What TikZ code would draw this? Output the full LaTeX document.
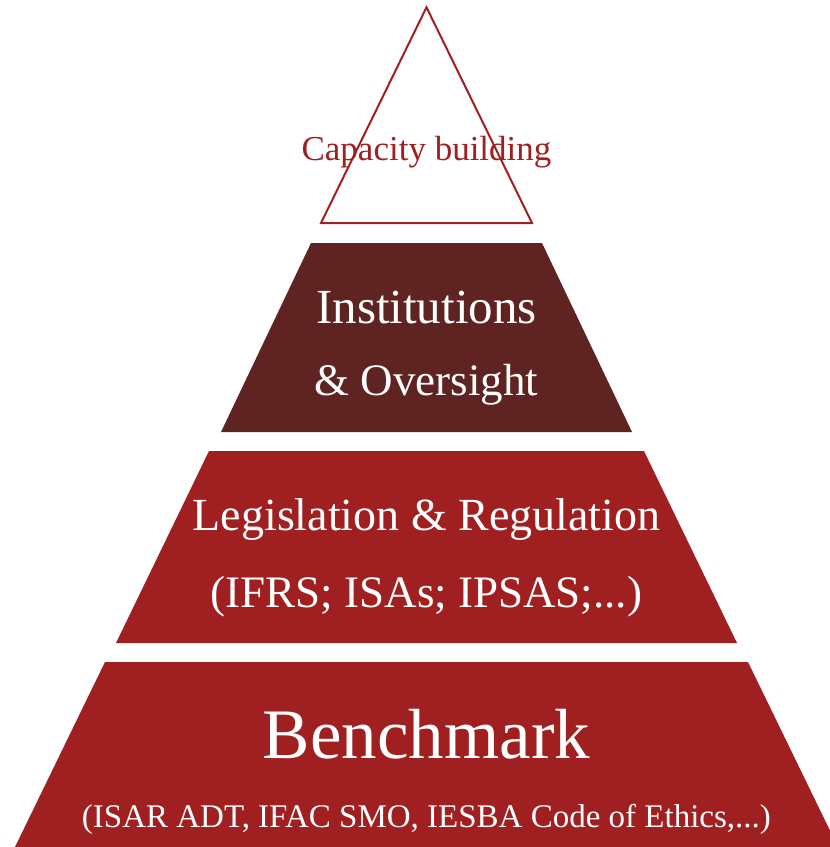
\documentclass[tikz,border=0pt]{standalone}
\usepackage{fontspec}
\setmainfont{Liberation Serif}
\usetikzlibrary{positioning}
\definecolor{pyrred}{HTML}{A02021}
\definecolor{pyrbrown}{HTML}{5F2321}
\newcommand{\fs}[1]{\fontsize{#1}{1.2\dimexpr#1pt\relax}\selectfont}

\begin{document}
\begin{tikzpicture}[x=1pt,y=-1pt]
		\tikzstyle{every node}+=[inner sep=0pt,anchor=base]
		\tikzstyle{lbl}=[text=white]
		\useasboundingbox (0,0) rectangle (830,847);
		% top: open triangle
		\draw [pyrred,line width=2pt,line join=miter] (426.5,7.3) -- (532,223) -- (321,223) -- cycle;
		\node [text=pyrred] (cap) at (426.5,160) {\fs{35}Capacity building};
		% second level
		\fill [pyrbrown] (311,243) -- (542,243) -- (632,432) -- (221,432) -- cycle;
		\node [lbl] (inst) at (426.5,323) {\fs{49}Institutions};
		\node [lbl] (over) at (426.5,395) {\fs{45}\& Oversight};
		% third level
		\fill [pyrred] (209,451) -- (644,451) -- (737,643) -- (116,643) -- cycle;
		\node [lbl] (legis) at (426.5,530) {\fs{46}Legislation \& Regulation};
		\node [lbl] (ifrs) at (426.5,607) {\fs{45}(IFRS; ISAs; IPSAS;...)};
		% base
		\fill [pyrred] (105,662) -- (748,662) -- (838,847) -- (15,847) -- cycle;
		\node [lbl] (bench) at (426.5,758) {\fs{71}Benchmark};
		\node [lbl] (isar) at (426.5,827) {\fs{33}(ISAR ADT, IFAC SMO, IESBA Code of Ethics,...)};
\end{tikzpicture}
\end{document}
